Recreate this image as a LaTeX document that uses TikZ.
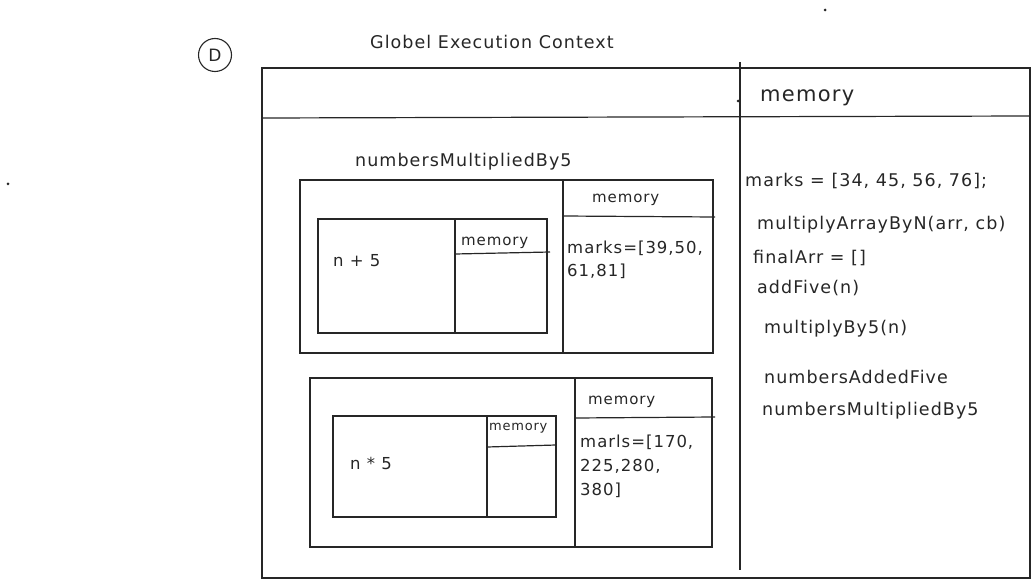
\documentclass[tikz,border=0pt]{standalone}
\usepackage{fontspec}
\setmainfont[LetterSpace=6]{DejaVu Sans}
\begin{document}
\begin{tikzpicture}[x=1pt,y=-1pt,
  box/.style={draw=black!85, line width=1.2pt},
  sep/.style={draw=black!85, line width=1.2pt},
  lbl/.style={font=\fontsize{17.5}{20}\selectfont, inner sep=0pt, anchor=west, text=black!85},
  big/.style={font=\fontsize{21}{24}\selectfont, inner sep=0pt, anchor=west, text=black!85},
  small/.style={font=\fontsize{16.5}{19}\selectfont, inner sep=0pt, anchor=west, text=black!85},
  mlbl/.style={font=\fontsize{15}{17}\selectfont, inner sep=0pt, anchor=west, text=black!85}]
\useasboundingbox (0,0) rectangle (1033,588);
% stray dots
\fill[black!85] (825,10) circle (1.5pt);
\fill[black!85] (8,184) circle (1.5pt);
% D marker
\node[draw=black!85, line width=1.1pt, circle, minimum size=33pt, inner sep=0pt, font=\fontsize{17}{19}\selectfont, text=black!85] (d) at (215,55) {D};
% title
\node[lbl] (title) at (370,42) {Globel Execution Context};
% global execution context
\draw[box] (262,68) rectangle (1030,578);
\draw[sep] (262,118) -- (1030,116);
\draw[sep] (740,62) -- (740,570);
\fill[black!85] (738,101) circle (1.5pt);
\node[big] (gmem) at (760,98) {memory};
% right column memory entries
\node[lbl] (m1) at (745,181) {marks = [34, 45, 56, 76];};
\node[lbl] (m2) at (757,225) {multiplyArrayByN(arr, cb)};
\node[lbl] (m3) at (753,258) {finalArr = []};
\node[lbl] (m4) at (757,288) {addFive(n)};
\node[lbl] (m5) at (764,329) {multiplyBy5(n)};
\node[lbl] (m6) at (764,377) {numbersAddedFive};
\node[lbl] (m7) at (762,411) {numbersMultipliedBy5};
% first execution context
\node[lbl] (nmb) at (355,162) {numbersMultipliedBy5};
\draw[box] (300,180) rectangle (713,353);
\draw[sep] (563,180) -- (563,353);
\draw[sep] (563,216) -- (715,217);
\node[mlbl] (mema) at (592,200) {memory};
\node[small] (ma1) at (567,248) {marks=[39,50,};
\node[small] (ma2) at (567,271) {61,81]};
\draw[box] (318,219) rectangle (547,333);
\draw[sep] (455,219) -- (455,333);
\draw[sep] (455,254) -- (550,252);
\node[mlbl] (memb) at (461,243) {memory};
\node[small] (nplus) at (333,261) {n + 5};
% second execution context
\draw[box] (310,378) rectangle (712,547);
\draw[sep] (575,378) -- (575,547);
\draw[sep] (575,418) -- (715,417);
\node[mlbl] (memc) at (588,402) {memory};
\node[small] (mc1) at (580,442) {marls=[170,};
\node[small] (mc2) at (580,466) {225,280,};
\node[small] (mc3) at (580,490) {380]};
\draw[box] (333,416) rectangle (556,517);
\draw[sep] (487,416) -- (487,517);
\draw[sep] (487,447) -- (556,445);
\node[font=\fontsize{13}{15}\selectfont, inner sep=0pt, anchor=west, text=black!85] (memd) at (489,428) {memory};
\node[small] (ntimes) at (350,463) {n * 5};
\end{tikzpicture}
\end{document}
